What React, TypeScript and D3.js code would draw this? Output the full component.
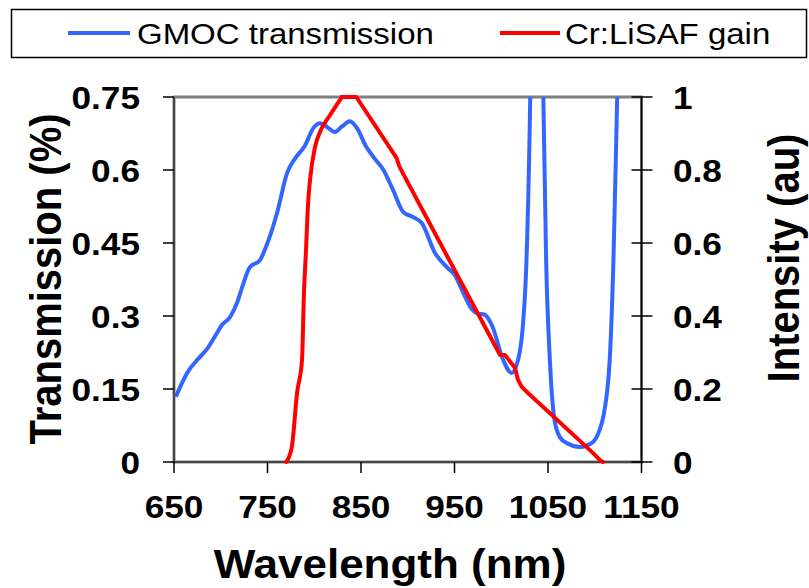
import React from "react";
import * as d3 from "d3";

// Blue: GMOC transmission (left axis)
const gmocWavelength = [652, 658, 664, 675, 686, 695, 701, 710, 718, 723, 731, 742, 748, 760, 771, 780, 790, 799, 806, 814, 822, 830, 838, 846, 855, 864, 874, 884, 895, 906, 915, 929, 942, 950, 960, 967, 975, 982, 990, 1002, 1011, 1018, 1023, 1027, 1031, 1034, 1038, 1042, 1045, 1048, 1052, 1057, 1063, 1070, 1084, 1098, 1105, 1109, 1116, 1120, 1124, 1127];
const gmocTransmission = [0.134, 0.16, 0.183, 0.21, 0.234, 0.262, 0.281, 0.298, 0.33, 0.36, 0.40, 0.415, 0.44, 0.51, 0.594, 0.625, 0.65, 0.686, 0.696, 0.688, 0.678, 0.69, 0.70, 0.685, 0.65, 0.625, 0.6, 0.56, 0.514, 0.503, 0.491, 0.43, 0.40, 0.385, 0.345, 0.318, 0.305, 0.303, 0.281, 0.21, 0.183, 0.21, 0.277, 0.415, 0.75, 1.2, 1.5, 1.2, 0.75, 0.415, 0.21, 0.086, 0.05, 0.039, 0.031, 0.041, 0.065, 0.092, 0.21, 0.415, 0.75, 1.0];

// Red: Cr:LiSAF gain (right axis) — smooth rise, then straight segments
const gainRiseWavelength = [770, 776, 781.6, 786.9, 789, 791.2, 793.3, 795.5, 800.8, 806.1, 816.8, 829.6];
const gainRiseIntensity = [0, 0.041, 0.189, 0.279, 0.463, 0.581, 0.704, 0.773, 0.863, 0.904, 0.95, 1.0];
const gainFallWavelength = [829.6, 845, 888, 891, 895, 998.7, 1004, 1014.7, 1017.9, 1022.2, 1028.6, 1098, 1105.6, 1108.8];
const gainFallIntensity = [1.0, 1.0, 0.833, 0.81, 0.79, 0.293, 0.293, 0.258, 0.225, 0.205, 0.189, 0.025, 0.005, 0];

const xTicks = [650, 750, 850, 950, 1050, 1150];
const leftTicks = [0, 0.15, 0.3, 0.45, 0.6, 0.75];
const leftTickLabels = ["0", "0.15", "0.3", "0.45", "0.6", "0.75"];
const rightTicks = [0, 0.2, 0.4, 0.6, 0.8, 1];
const rightTickLabels = ["0", "0.2", "0.4", "0.6", "0.8", "1"];

const legendLabels = ["GMOC transmission", "Cr:LiSAF gain"];
const seriesColors = ["#3366FF", "#FF0000"];

const FONT = "'Liberation Sans', Arial, sans-serif";
const SX = 1.1;

function SText(props: { x: number; y: number; anchor?: string; size: number; bold?: boolean; rotate?: number; children: React.ReactNode }) {
  const { x, y, anchor = "start", size, bold = true, rotate = 0, children } = props;
  return (
    <text
      transform={`translate(${x},${y}) scale(${SX},1) rotate(${rotate})`}
      textAnchor={anchor}
      fontFamily={FONT}
      fontSize={size}
      fontWeight={bold ? "bold" : "normal"}
      fill="#000"
    >
      {children}
    </text>
  );
}

export default function App() {
  const W = 809, H = 588;
  const left = 174, right = 641.5, top = 97, bottom = 462;
  const x = d3.scaleLinear().domain([650, 1150]).range([left, right]);
  const yL = d3.scaleLinear().domain([0, 0.75]).range([bottom, top]);
  const yR = d3.scaleLinear().domain([0, 1]).range([bottom, top]);

  const blueData = gmocWavelength.map((w, i) => [w, gmocTransmission[i]] as [number, number]);
  const riseData = gainRiseWavelength.map((w, i) => [w, gainRiseIntensity[i]] as [number, number]);
  const fallData = gainFallWavelength.map((w, i) => [w, gainFallIntensity[i]] as [number, number]);

  const blueLine = d3.line<[number, number]>().x(d => x(d[0])).y(d => yL(d[1])).curve(d3.curveMonotoneX)(blueData) || "";
  const riseLine = d3.line<[number, number]>().x(d => x(d[0])).y(d => yR(d[1])).curve(d3.curveMonotoneX)(riseData) || "";
  const fallLine = d3.line<[number, number]>().x(d => x(d[0])).y(d => yR(d[1])).curve(d3.curveLinear)(fallData) || "";

  return (
    <svg width={W} height={H} style={{ position: "absolute", left: 0, top: 0, background: "#fff" }}>
      <defs>
        <clipPath id="plotClip">
          <rect x={left} y={top} width={right - left} height={bottom - top} />
        </clipPath>
      </defs>

      {/* Legend */}
      <rect x={11.5} y={9.5} width={795} height={48} fill="#fff" stroke="#000" strokeWidth={1.5} />
      <line x1={68} x2={130} y1={33} y2={33} stroke={seriesColors[0]} strokeWidth={4} />
      <SText x={137} y={44} size={30} bold={false}>{legendLabels[0]}</SText>
      <line x1={500} x2={560} y1={33} y2={33} stroke={seriesColors[1]} strokeWidth={4} />
      <SText x={565} y={44} size={30} bold={false}>{legendLabels[1]}</SText>

      {/* Plot frame */}
      <rect x={left} y={top} width={right - left} height={bottom - top} fill="none" stroke="#808080" strokeWidth={3} />
      <line x1={left} x2={left} y1={top} y2={bottom} stroke="#333" strokeWidth={1.5} />
      <line x1={left} x2={right} y1={bottom} y2={bottom} stroke="#333" strokeWidth={1.5} />
      <line x1={right} x2={right} y1={top} y2={bottom} stroke="#000" strokeWidth={1.5} />

      {/* Left ticks */}
      {leftTicks.map((t, i) => (
        <g key={"l" + i}>
          <line x1={left - 11} x2={left} y1={yL(t)} y2={yL(t)} stroke="#000" strokeWidth={1.5} />
          <SText x={140} y={yL(t) + 11.5} anchor="end" size={32}>{leftTickLabels[i]}</SText>
        </g>
      ))}
      {/* Right ticks */}
      {rightTicks.map((t, i) => (
        <g key={"r" + i}>
          <line x1={right - 10} x2={right + 11} y1={yR(t)} y2={yR(t)} stroke="#000" strokeWidth={1.5} />
          <SText x={673} y={yR(t) + 11.5} anchor="start" size={32}>{rightTickLabels[i]}</SText>
        </g>
      ))}
      {/* X ticks */}
      {xTicks.map((t, i) => (
        <g key={"x" + i}>
          <line x1={x(t)} x2={x(t)} y1={bottom} y2={bottom + 11} stroke="#000" strokeWidth={1.5} />
          <SText x={x(t)} y={518} anchor="middle" size={32}>{String(t)}</SText>
        </g>
      ))}

      {/* Titles */}
      <SText x={390} y={578} anchor="middle" size={40}>Wavelength (nm)</SText>
      <SText x={61} y={279} anchor="middle" size={40} rotate={-90}>Transmission (%)</SText>
      <SText x={799} y={258} anchor="middle" size={40} rotate={-90}>Intensity (au)</SText>

      {/* Series */}
      <g clipPath="url(#plotClip)">
        <path d={blueLine} fill="none" stroke={seriesColors[0]} strokeWidth={4} strokeLinejoin="round" />
      </g>
      <path d={riseLine} fill="none" stroke={seriesColors[1]} strokeWidth={4} strokeLinejoin="round" strokeLinecap="round" />
      <path d={fallLine} fill="none" stroke={seriesColors[1]} strokeWidth={4} strokeLinejoin="round" strokeLinecap="round" />
    </svg>
  );
}
